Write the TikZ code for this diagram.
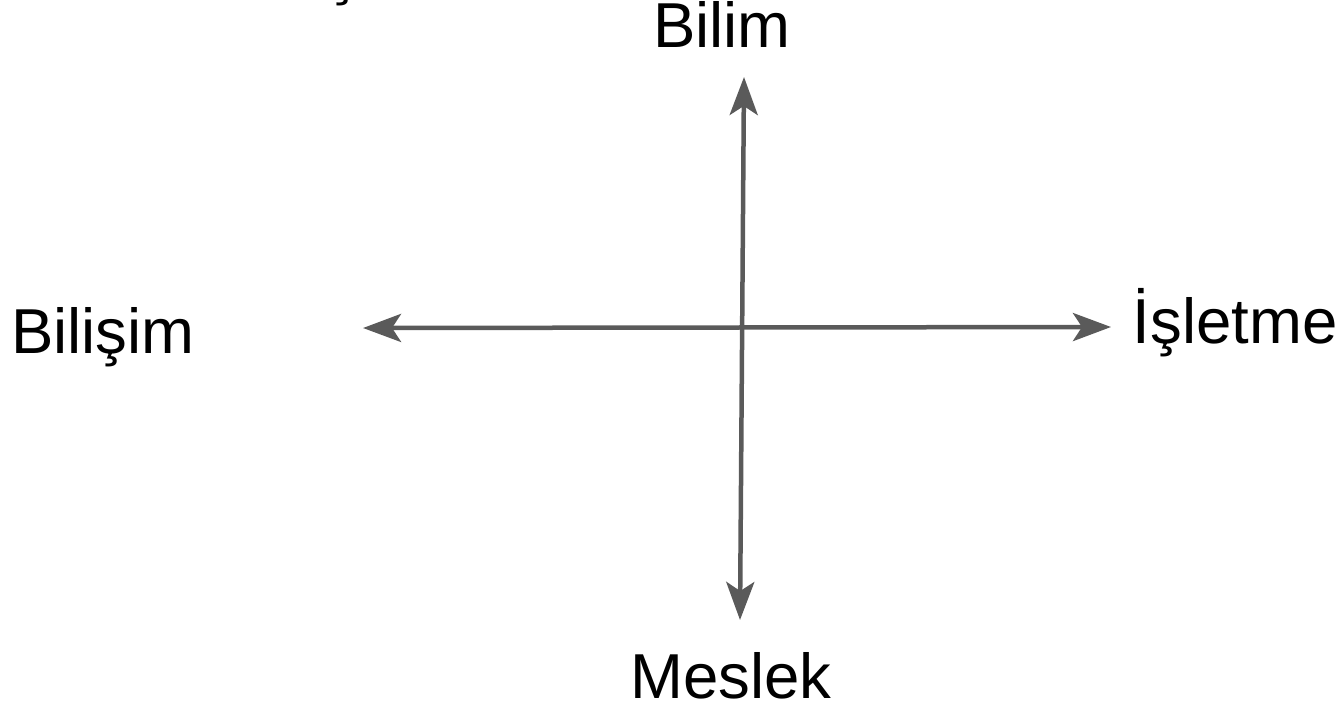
\documentclass[tikz,border=0pt]{standalone}
\usepackage{fontspec}
\setmainfont{Liberation Sans}
\usetikzlibrary{arrows.meta}
\definecolor{axisgray}{RGB}{90,90,90}

\begin{document}
\begin{tikzpicture}[x=1pt, y=-1pt, >={Stealth[length=38pt, width=28pt, inset=9pt]},
  label/.style={inner sep=0pt, anchor=base, font=\fontsize{63.5}{70}\selectfont}]
  \useasboundingbox (0,0) rectangle (1341,709);
  \node (cut) at (342,-7) [label] {ş};
  \coordinate (up) at (744,77);
  \coordinate (down) at (740,620);
  \coordinate (left) at (363,328);
  \coordinate (right) at (1111,327);
  \draw [line width=4.5pt, axisgray, <->] (down) -- (up);
  \draw [line width=4.5pt, axisgray, <->] (left) -- (right);
  \node (bilim) at (722,48) [label] {Bilim};
  \node (bilisim) at (103,353) [label] {Bilişim};
  \node (meslek) at (731,698) [label] {Meslek};
  \node (isletme) at (1235,343) [label] {İşletme};
\end{tikzpicture}
\end{document}
